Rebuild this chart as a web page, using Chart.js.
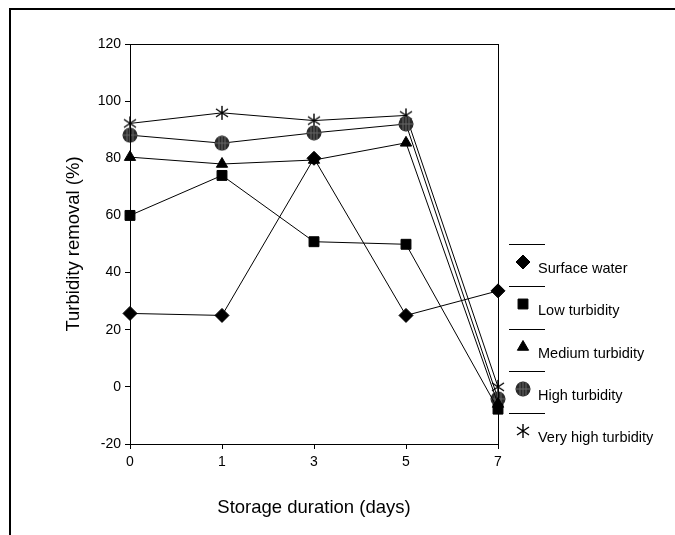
<!DOCTYPE html>
<html>
<head>
<meta charset="utf-8">
<script src="https://cdn.jsdelivr.net/npm/chart.js@4.4.1/dist/chart.umd.min.js"></script>
<style>
  html, body { margin: 0; padding: 0; background: #fff; }
  #wrap { position: relative; width: 675px; height: 535px; }
  #frame { position: absolute; left: 9px; top: 8px; width: 700px; height: 600px;
           border-top: 2px solid #000; border-left: 2px solid #000; }
  canvas { position: absolute; left: 0; top: 0; }
</style>
</head>
<body>
<div id="wrap">
  <div id="frame"></div>
  <canvas id="chart" width="675" height="535"></canvas>
</div>
<script>
// Data
const days = ['0', '1', '3', '5', '7'];
const surfaceWater = [25.7, 25, 80, 25, 33.6];
const lowTurbidity = [60, 74, 50.8, 49.9, -7.8];
const mediumTurbidity = [80.4, 78, 79.4, 85.4, -6];
const highTurbidity = [88.1, 85.3, 88.9, 92, -4.2];
const veryHighTurbidity = [92.2, 95.9, 93.2, 95, 0];
const yTicks = [-20, 0, 20, 40, 60, 80, 100, 120];

const FONT = "'Liberation Sans', Arial, sans-serif";

// Custom marker: asterisk (vertical bar + X)
function makeAsterisk() {
    const c = document.createElement('canvas');
    c.width = 16; c.height = 16;
    const g = c.getContext('2d');
    g.strokeStyle = '#000';
    g.lineWidth = 1.4;
    g.beginPath();
    g.moveTo(8, 1); g.lineTo(8, 15);
    g.moveTo(2, 4); g.lineTo(14, 12);
    g.moveTo(14, 4); g.lineTo(2, 12);
    g.stroke();
    return c;
}

// Custom marker: dark hatched disc
function makeDisc() {
    const c = document.createElement('canvas');
    c.width = 16; c.height = 16;
    const g = c.getContext('2d');
    g.fillStyle = '#2a2a2a';
    g.beginPath();
    g.arc(8, 8, 7.5, 0, Math.PI * 2);
    g.fill();
    g.save();
    g.clip();
    g.strokeStyle = '#666';
    g.lineWidth = 1;
    g.beginPath();
    [5, 8, 11].forEach(x => { g.moveTo(x, 0); g.lineTo(x, 16); });
    g.moveTo(0, 8); g.lineTo(16, 8);
    g.stroke();
    g.restore();
    return c;
}

const asterisk = makeAsterisk();
const disc = makeDisc();

function series(label, data, style, radius) {
    return {
        label: label,
        data: data,
        borderColor: '#000',
        borderWidth: 1,
        backgroundColor: '#000',
        pointStyle: style,
        pointRadius: radius,
        pointBorderColor: '#000',
        pointBackgroundColor: '#000',
        pointBorderWidth: 1,
        tension: 0,
        clip: false
    };
}

const datasets = [
    series('Surface water', surfaceWater, 'rectRot', 7),
    series('Low turbidity', lowTurbidity, 'rect', 7),
    series('Medium turbidity', mediumTurbidity, 'triangle', 6.5),
    series('High turbidity', highTurbidity, disc, 7),
    series('Very high turbidity', veryHighTurbidity, asterisk, 7)
];

// Box around the plot area
const plotBox = {
    id: 'plotBox',
    afterDraw(chart) {
        const { ctx, chartArea: a } = chart;
        ctx.save();
        ctx.strokeStyle = '#000';
        ctx.lineWidth = 1;
        ctx.strokeRect(a.left + 0.5, a.top + 0.5, a.right - a.left, a.bottom - a.top);
        ctx.restore();
    }
};

// Legend drawn to the right, line separator above each entry
const sideLegend = {
    id: 'sideLegend',
    afterDraw(chart) {
        const { ctx } = chart;
        const top = 244, step = 42.3;
        ctx.save();
        ctx.font = '14.5px ' + FONT;
        ctx.textBaseline = 'middle';
        chart.data.datasets.forEach((ds, i) => {
            const y = top + i * step;
            ctx.strokeStyle = '#000';
            ctx.lineWidth = 1;
            ctx.beginPath();
            ctx.moveTo(509, Math.round(y) + 0.5);
            ctx.lineTo(545, Math.round(y) + 0.5);
            ctx.stroke();
            const my = Math.round(y + 18);
            if (typeof ds.pointStyle === 'string') {
                ctx.fillStyle = '#000';
                Chart.helpers.drawPoint(ctx, {
                    pointStyle: ds.pointStyle, radius: ds.pointRadius, rotation: 0, borderWidth: 1
                }, 523, my);
            } else {
                ctx.drawImage(ds.pointStyle, 523 - 8, my - 8);
            }
            ctx.fillStyle = '#000';
            ctx.fillText(ds.label, 538, y + 25);
        });
        ctx.restore();
    }
};

new Chart(document.getElementById('chart').getContext('2d'), {
    type: 'line',
    data: { labels: days, datasets: datasets },
    options: {
        responsive: false,
        animation: false,
        layout: { padding: { left: 0, top: 44, right: 177, bottom: 0 } },
        plugins: { legend: { display: false }, tooltip: { enabled: false } },
        scales: {
            x: {
                type: 'category',
                offset: false,
                grid: { drawOnChartArea: false, drawTicks: true, tickLength: 5, color: '#000' },
                border: { display: true, color: '#000', width: 1 },
                ticks: { color: '#000', font: { family: FONT, size: 14 }, padding: 5, maxRotation: 0 },
                title: {
                    display: true, text: 'Storage duration (days)', color: '#000',
                    font: { family: FONT, size: 18.5 }, padding: { top: 0, bottom: 16 }
                },
                afterFit(scale) { scale.height = 91; }
            },
            y: {
                min: -20,
                max: 120,
                afterBuildTicks(scale) { scale.ticks = yTicks.map(v => ({ value: v })); },
                grid: { drawOnChartArea: false, drawTicks: true, tickLength: 5, color: '#000' },
                border: { display: true, color: '#000', width: 1 },
                ticks: { color: '#000', font: { family: FONT, size: 14 }, padding: 4 },
                title: {
                    display: true, text: 'Turbidity removal (%)', color: '#000',
                    font: { family: FONT, size: 18.5 }, padding: { top: 63, bottom: 0 }
                },
                afterFit(scale) { scale.width = 130; }
            }
        }
    },
    plugins: [plotBox, sideLegend]
});
</script>
</body>
</html>
